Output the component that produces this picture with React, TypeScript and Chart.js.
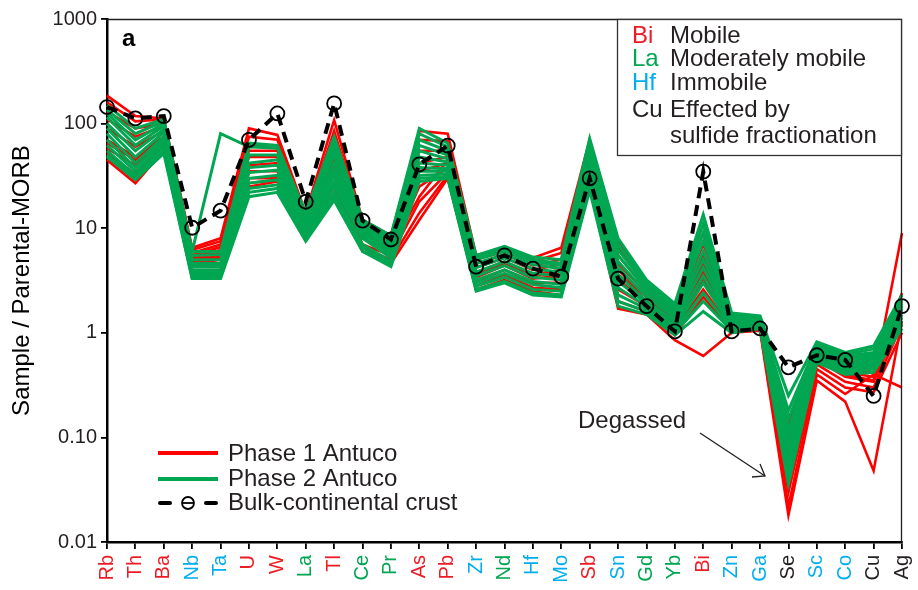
import React, { useEffect, useRef } from 'react';
import { Chart, registerables } from 'chart.js';

Chart.register(...registerables);

// ---------- DATA ----------
const elements = ['Rb','Th','Ba','Nb','Ta','U','W','La','Tl','Ce','Pr','As','Pb','Zr','Nd','Hf','Mo','Sb','Sn','Gd','Yb','Bi','Zn','Ga','Se','Sc','Co','Cu','Ag'];

const RED = '#ED1C24';
const GRN = '#00A651';
const BLU = '#00AEEF';
const BLK = '#231F20';
const elementColors = [RED,RED,RED,BLU,BLU,RED,RED,GRN,RED,GRN,GRN,RED,RED,BLU,GRN,BLU,BLU,RED,BLU,GRN,GRN,RED,BLU,BLU,BLK,BLU,BLU,BLK,BLK];

const yTickValues = [0.01, 0.1, 1, 10, 100, 1000];
const yTickLabels = ['0.01', '0.10', '1', '10', '100', '1000'];

const bulkContinentalCrust = [144,112,118,10.1,14.7,70,125,17.9,156,11.8,7.8,40.8,61.5,4.28,5.5,4.1,3.44,30,3.3,1.8,1.03,34.7,1.03,1.1,0.468,0.61,0.55,0.249,1.8];

// Phase 1 Antuco samples
const p1s1 = [185,118,112,6.5,8.0,90,78,14,108,12,8.5,85,80,5.5,6.5,5.2,6.5,70,7.5,3.0,1.8,9.0,1.5,1.4,0.14,0.8,0.55,0.5,2.4];
const p1s2 = [160,105,110,6.2,7.5,75,70,13,85,11,8.0,70,68,5.0,6.0,4.8,5.8,60,6.5,2.8,1.6,7.0,1.4,1.35,0.1,0.72,0.5,0.45,2.0];
const p1s3 = [130,90,100,5.8,7.0,55,55,12,65,10,7.5,55,55,4.6,5.6,4.4,5.0,52,5.5,2.6,1.5,5.5,1.3,1.3,0.08,0.66,0.46,0.42,1.8];
const p1s4 = [110,75,95,5.5,6.6,48,48,11,50,9.5,7.0,42,48,4.2,5.2,4.0,4.5,45,4.6,2.4,1.4,4.5,1.25,1.25,0.065,0.6,0.42,0.38,1.6];
const p1s5 = [90,60,85,5.2,6.2,40,42,10,40,9.0,6.5,35,42,3.8,4.8,3.6,4.0,40,4.0,2.2,1.3,3.8,1.2,1.2,0.05,0.55,0.38,0.34,1.4];
const p1s6 = [70,48,75,5.0,5.8,35,35,9.5,33,8.0,6.0,25,38,3.4,4.4,3.3,3.5,35,3.2,2.0,1.2,3.2,1.15,1.2,0.04,0.5,0.34,0.3,1.2];
const p1s7 = [58,40,68,4.8,5.5,30,30,9.0,28,7.0,5.5,18,34,3.1,4.0,3.0,3.0,30,2.6,1.8,1.1,2.6,1.1,1.15,0.03,0.45,0.3,0.27,1.0];
const p1s8 = [52,33,62,4.7,5.2,27,29,8.5,25,6.5,5.0,14,32,2.8,3.6,2.7,2.6,28,2.0,1.6,0.95,2.2,1.05,1.1,0.022,0.4,0.26,0.4,0.3];
const p1s9 = [45,27,55,4.5,5.0,25,28,8.0,22,6.0,4.6,12,30,2.6,3.2,2.5,2.3,25,1.7,1.5,0.85,0.6,1.0,1.05,0.018,0.35,0.22,0.048,1.3];
const p1s10 = [65,45,72,5.4,6.0,60,62,10.5,45,8.5,6.5,20,45,3.6,4.6,3.5,3.8,38,3.6,2.2,1.25,3.4,1.2,1.2,0.09,0.62,0.4,0.35,9.0];

// Phase 2 Antuco samples
const p2s1 = [150,90,110,6.0,6.0,65,62,14,75,12,8.5,90,65,5.5,6.7,5.3,5.0,72,8.0,3.2,1.9,13.5,1.55,1.45,0.25,0.82,0.65,0.75,2.3];
const p2s2 = [135,80,105,5.5,5.6,60,58,13,65,11.5,8.0,80,60,5.2,6.3,5.0,4.6,65,7.0,3.0,1.8,11,1.5,1.4,0.18,0.78,0.62,0.7,2.1];
const p2s3 = [125,70,100,6.0,80,60,60,12.5,58,11,7.5,70,55,5.0,6.0,4.8,4.4,60,6.2,2.8,1.7,9.0,1.45,1.4,0.15,0.75,0.6,0.65,2.0];
const p2s4 = [115,62,95,5.0,5.0,50,50,12,50,10.5,7.2,62,50,4.6,5.6,4.5,4.1,55,5.5,2.6,1.6,7.5,1.4,1.35,0.12,0.72,0.58,0.62,1.9];
const p2s5 = [100,55,88,4.6,4.6,42,45,11,42,10,6.8,55,46,4.2,5.2,4.1,3.8,50,4.8,2.4,1.5,6.0,1.35,1.35,0.1,0.7,0.55,0.6,1.8];
const p2s6 = [90,48,82,4.3,4.3,38,40,10.5,36,9.5,6.4,48,43,3.8,4.8,3.7,3.5,45,4.2,2.2,1.4,5.0,1.3,1.3,0.08,0.68,0.52,0.58,1.7];
const p2s7 = [80,42,75,4.0,4.0,34,36,10,32,9.0,6.0,42,40,3.5,4.4,3.4,3.2,40,3.6,2.0,1.3,4.2,1.25,1.3,0.07,0.65,0.5,0.55,1.6];
const p2s8 = [70,38,70,3.8,3.8,30,32,9.5,28,8.5,5.6,38,37,3.2,4.0,3.1,2.9,36,3.1,1.9,1.2,3.5,1.2,1.25,0.06,0.62,0.48,0.52,1.5];
const p2s9 = [62,35,65,3.6,3.6,27,29,9.0,25,8.0,5.2,35,35,3.0,3.7,2.9,2.7,32,2.7,1.8,1.1,3.0,1.15,1.2,0.05,0.6,0.46,0.5,1.4];
const p2s10 = [55,32,60,3.4,3.5,24,26,8.5,22,7.0,4.8,32,33,2.8,3.4,2.6,2.5,28,2.3,1.7,1.05,2.4,1.1,1.2,0.045,0.58,0.44,0.48,1.3];
const p2s11 = [50,30,55,3.3,3.4,22,24,8.0,20,6.5,4.5,30,31,2.6,3.1,2.4,2.3,25,2.0,1.6,1.0,2.0,1.05,1.15,0.04,0.55,0.42,0.45,1.2];
const p2s12 = [48,29,52,3.3,3.3,20,22,7.5,18.5,6.0,4.3,28,30,2.5,3.0,2.3,2.2,23,1.8,1.5,0.95,1.6,1.0,1.1,0.036,0.52,0.4,0.42,1.1];

const phase1Samples = [p1s1,p1s2,p1s3,p1s4,p1s5,p1s6,p1s7,p1s8,p1s9,p1s10];
const phase2Samples = [p2s1,p2s2,p2s3,p2s4,p2s5,p2s6,p2s7,p2s8,p2s9,p2s10,p2s11,p2s12];

const LINE_RED = '#FF0000';
const LINE_GRN = '#00A651';
const FONT = '"Liberation Sans", Arial, Helvetica, sans-serif';

const overlayPlugin = {
  id: 'overlay',
  afterDraw(chart: any) {
    const ctx = chart.ctx as CanvasRenderingContext2D;
    const { left, right, top, bottom } = chart.chartArea;
    ctx.save();

    // top & right frame
    ctx.strokeStyle = BLK;
    ctx.lineWidth = 1.3;
    ctx.beginPath();
    ctx.moveTo(left, top + 0.5);
    ctx.lineTo(right - 0.5, top + 0.5);
    ctx.lineTo(right - 0.5, bottom);
    ctx.stroke();

    // panel letter
    ctx.fillStyle = '#000';
    ctx.font = `bold 24px ${FONT}`;
    ctx.textBaseline = 'alphabetic';
    ctx.textAlign = 'left';
    ctx.fillText('a', left + 15, top + 27);

    // y title
    ctx.save();
    ctx.translate(22, (top + bottom) / 2);
    ctx.rotate(-Math.PI / 2);
    ctx.font = `24px ${FONT}`;
    ctx.textAlign = 'center';
    ctx.textBaseline = 'middle';
    ctx.fillStyle = '#000';
    ctx.fillText('Sample / Parental-MORB', 0, 0);
    ctx.restore();

    // top-right legend box
    const bx = right - 285, by = top, bw = 285, bh = 137;
    ctx.fillStyle = '#fff';
    ctx.fillRect(bx, by, bw, bh);
    ctx.strokeStyle = '#333';
    ctx.lineWidth = 1.3;
    ctx.strokeRect(bx + 0.5, by + 0.5, bw - 1, bh - 1);
    ctx.font = `24px ${FONT}`;
    ctx.textAlign = 'left';
    ctx.textBaseline = 'alphabetic';
    const rows: [string, string, string, number][] = [
      ['Bi', RED, 'Mobile', 24],
      ['La', GRN, 'Moderately mobile', 47],
      ['Hf', BLU, 'Immobile', 71],
      ['Cu', BLK, 'Effected by', 98],
      ['', BLK, 'sulfide fractionation', 124],
    ];
    rows.forEach(([sym, col, txt, dy]) => {
      if (sym) { ctx.fillStyle = col; ctx.fillText(sym, bx + 15, by + dy); }
      ctx.fillStyle = BLK;
      ctx.fillText(txt, bx + 53, by + dy);
    });

    // bottom-left legend
    const lx0 = left + 51, lx1 = left + 111, tx = left + 121;
    ctx.lineWidth = 4;
    ctx.strokeStyle = LINE_RED;
    ctx.beginPath(); ctx.moveTo(lx0, 453); ctx.lineTo(lx1, 453); ctx.stroke();
    ctx.strokeStyle = LINE_GRN;
    ctx.beginPath(); ctx.moveTo(lx0, 479); ctx.lineTo(lx1, 479); ctx.stroke();
    ctx.strokeStyle = '#000';
    ctx.lineCap = 'round';
    ctx.beginPath(); ctx.moveTo(lx0 + 2, 503); ctx.lineTo(lx0 + 12, 503); ctx.stroke();
    ctx.beginPath(); ctx.moveTo(lx1 - 12, 503); ctx.lineTo(lx1 - 2, 503); ctx.stroke();
    ctx.lineCap = 'butt';
    ctx.lineWidth = 1.8;
    ctx.beginPath(); ctx.arc((lx0 + lx1) / 2, 503, 6, 0, Math.PI * 2); ctx.stroke();
    ctx.beginPath(); ctx.moveTo((lx0 + lx1) / 2 - 6, 503); ctx.lineTo((lx0 + lx1) / 2 + 6, 503); ctx.stroke();
    ctx.font = `24px ${FONT}`;
    ctx.fillStyle = BLK;
    ctx.textBaseline = 'middle';
    ctx.fillText('Phase 1 Antuco', tx, 454);
    ctx.fillText('Phase 2 Antuco', tx, 479);
    ctx.fillText('Bulk-continental crust', tx, 503);

    // Degassed annotation
    ctx.textBaseline = 'alphabetic';
    ctx.fillText('Degassed', 578, 428);
    ctx.strokeStyle = BLK;
    ctx.lineWidth = 1.3;
    ctx.beginPath(); ctx.moveTo(700, 433); ctx.lineTo(765, 476); ctx.stroke();
    ctx.beginPath(); ctx.moveTo(752, 477); ctx.lineTo(765, 476); ctx.lineTo(760, 464); ctx.stroke();

    ctx.restore();
  },
};

export default function App() {
  const ref = useRef<HTMLCanvasElement | null>(null);

  useEffect(() => {
    document.body.style.margin = '0';
    const canvas = ref.current;
    if (!canvas) return;

    const datasets: any[] = [];
    datasets.push({
      label: 'Bulk-continental crust',
      data: bulkContinentalCrust,
      borderColor: '#000',
      borderWidth: 4,
      borderDash: [11, 7],
      pointRadius: 7,
      pointBorderWidth: 1.8,
      pointBorderColor: '#000',
      pointBackgroundColor: 'rgba(0,0,0,0)',
      tension: 0,
      fill: false,
    });
    phase2Samples.forEach((s, i) => datasets.push({
      label: 'Phase 2 Antuco ' + (i + 1),
      data: s,
      borderColor: LINE_GRN,
      borderWidth: 3,
      pointRadius: 0,
      tension: 0,
      fill: false,
    }));
    phase1Samples.forEach((s, i) => datasets.push({
      label: 'Phase 1 Antuco ' + (i + 1),
      data: s,
      borderColor: LINE_RED,
      borderWidth: 2.6,
      pointRadius: 0,
      tension: 0,
      fill: false,
    }));

    const chart = new Chart(canvas, {
      type: 'line',
      data: { labels: elements, datasets },
      options: {
        animation: false,
        responsive: false,
        devicePixelRatio: 1,
        layout: { padding: { top: 19, right: 16, left: 0, bottom: 0 } },
        plugins: { legend: { display: false }, tooltip: { enabled: false } },
        scales: {
          x: {
            type: 'category',
            offset: false,
            afterFit: (s: any) => { s.height = 48; s.paddingLeft = 0; s.paddingRight = 0; },
            grid: { display: true, drawOnChartArea: false, drawTicks: true, tickLength: 7, color: '#000', lineWidth: 1.8, offset: false },
            border: { display: true, color: '#000', width: 2.5 },
            ticks: {
              autoSkip: false,
              maxRotation: 90,
              minRotation: 90,
              padding: 6,
              font: { family: FONT, size: 20 },
              color: (c: any) => elementColors[c.index] || BLK,
            },
          },
          y: {
            type: 'logarithmic',
            min: 0.01,
            max: 1000,
            afterFit: (s: any) => { s.width = 107; s.paddingTop = 0; s.paddingBottom = 0; },
            afterBuildTicks: (s: any) => { s.ticks = yTickValues.map((v) => ({ value: v, major: true })); },
            grid: { display: true, drawOnChartArea: false, drawTicks: true, tickLength: 6, color: '#000', lineWidth: 1.8 },
            border: { display: true, color: '#000', width: 2.5 },
            ticks: {
              padding: 4,
              font: { family: FONT, size: 20 },
              color: BLK,
              callback: (_v: any, i: number) => yTickLabels[i],
            },
          },
        },
      },
      plugins: [overlayPlugin],
    });

    return () => chart.destroy();
  }, []);

  return <canvas ref={ref} width={918} height={590} style={{ display: 'block' }} />;
}
